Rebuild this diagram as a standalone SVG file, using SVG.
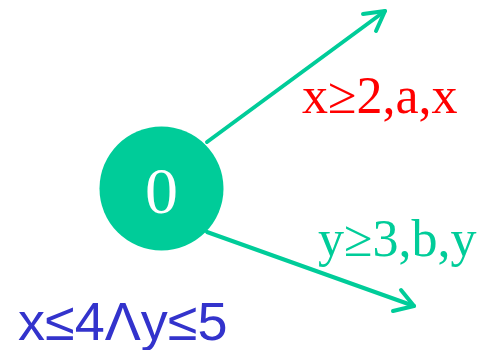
<svg xmlns="http://www.w3.org/2000/svg" width="480" height="350" viewBox="0 0 480 350">
<style>
.edge{stroke:#00CC99;stroke-width:4;fill:none;stroke-linecap:round;stroke-linejoin:round}
.ser{font-family:"Liberation Serif","Times New Roman",serif}
.sans{font-family:"Liberation Sans",Arial,sans-serif}
</style>
<g id="connectors">
<path class="edge" d="M207,142 L385,11"/>
<path class="edge" d="M363,14 L385,11 L376,31"/>
<path class="edge" d="M207,232 L414,306"/>
<path class="edge" d="M401,290 L414,306 L393,311"/>
</g>
<g id="node0">
<circle cx="161.5" cy="188.5" r="62" fill="#00CC99"/>
<text x="161.5" y="213" text-anchor="middle" class="ser" font-size="66" fill="#FFFFFF">0</text>
</g>
<g id="labels">
<text x="302" y="113" class="ser" font-size="52" fill="#FF0000">x≥2,a,x</text>
<text x="318" y="256" class="ser" font-size="52" fill="#00CC99">y≥3,b,y</text>
<text x="18" y="340" class="sans" font-size="54" fill="#3333CC">x≤4Λy≤5</text>
</g>
</svg>
